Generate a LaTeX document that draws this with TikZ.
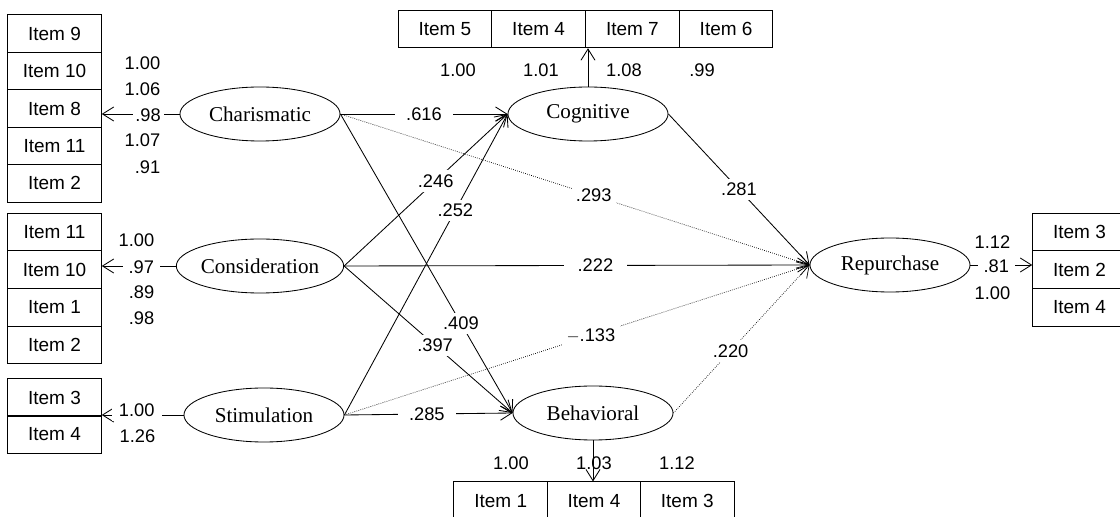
\documentclass[tikz,border=0pt]{standalone}
\usepackage{fontspec}
\setmainfont{Liberation Serif}
\setsansfont{Liberation Sans}
\usetikzlibrary{shapes.geometric, positioning, arrows.meta}

\begin{document}
\begin{tikzpicture}[
    x=0.025cm, y=-0.025cm,
    line width=0.6pt,
    >={Straight Barb[length=8pt,width=10pt]},
    latent/.style={draw, ellipse, minimum width=4cm, minimum height=1.35cm, inner sep=0pt, align=center, font=\fontsize{15}{17}\selectfont},
    itembox/.style={draw, rectangle, minimum width=2.34cm, minimum height=0.94cm, inner sep=0pt, font=\sffamily\fontsize{13.5}{15}\selectfont},
    load/.style={font=\sffamily\fontsize{13}{15}\selectfont, inner sep=1pt},
    coef/.style={font=\sffamily\fontsize{13}{15}\selectfont, fill=white, inner sep=3pt},
    effect/.style={->},
    weakeffect/.style={->, densely dotted, line width=0.5pt}
]

    \useasboundingbox (0,0) rectangle (1120,517);
    \clip (0,0) rectangle (1120,517);

    % --- Latent variables ---
    \node[latent] (cha) at (260,114) {Charismatic};
    \node[latent] (con) at (260,266) {Consideration};
    \node[latent] (sti) at (264,415) {Stimulation};
    \node[latent] (cog) at (588,114) {Cognitive};
    \node[latent] (beh) at (593,413) {Behavioral};
    \node[latent] (rep) at (890,265) {Repurchase};

    % --- Charismatic items ---
    \node[itembox] (chaI9) at (54.5,33.7) {Item 9};
    \node[itembox] (chaI10) at (54.5,71.1) {Item 10};
    \node[itembox] (chaI8) at (54.5,108.5) {Item 8};
    \node[itembox] (chaI11) at (54.5,145.9) {Item 11};
    \node[itembox] (chaI2) at (54.5,183.3) {Item 2};

    % --- Consideration items ---
    \node[itembox] (conI11) at (54.5,231.9) {Item 11};
    \node[itembox] (conI10) at (54.5,269.6) {Item 10};
    \node[itembox] (conI1) at (54.5,307.4) {Item 1};
    \node[itembox] (conI2) at (54.5,345.1) {Item 2};

    % --- Stimulation items ---
    \node[itembox] (stiI3) at (54.5,397.5) {Item 3};
    \node[itembox] (stiI4) at (54.5,434.5) {Item 4};

    % --- Cognitive items ---
    \node[itembox] (cogI5) at (444.9,29) {Item 5};
    \node[itembox] (cogI4) at (538.6,29) {Item 4};
    \node[itembox] (cogI7) at (632.4,29) {Item 7};
    \node[itembox] (cogI6) at (726.1,29) {Item 6};

    % --- Behavioral items ---
    \node[itembox] (behI1) at (500.7,500.7) {Item 1};
    \node[itembox] (behI4) at (594,500.7) {Item 4};
    \node[itembox] (behI3) at (687.3,500.7) {Item 3};

    % --- Repurchase items ---
    \node[itembox] (repI3) at (1079.5,231.9) {Item 3};
    \node[itembox] (repI2) at (1079.5,269.6) {Item 2};
    \node[itembox] (repI4) at (1079.5,307.4) {Item 4};

    % --- Measurement arrows ---
    \draw[->] (cha.west) -- (cha.west -| chaI8.east);
    \draw[->] (con.west) -- (con.west -| conI10.east);
    \draw[->] (sti.west) -- (sti.west -| stiI3.south east);
    \draw[->] (cog.north) -- (cog.north |- cogI4.south);
    \draw[->] (rep.east) -- (rep.east -| repI2.west);

    % --- Loadings ---
    \node[load, anchor=east] at (162,63) {1.00};
    \node[load, anchor=east] at (162,89) {1.06};
    \node[coef, anchor=east, inner xsep=2pt] at (164,115) {.98};
    \node[load, anchor=east] at (162,140) {1.07};
    \node[load, anchor=east] at (162,167) {.91};

    \node[load, anchor=east] at (156,240) {1.00};
    \node[coef, anchor=east, inner xsep=4pt] at (160,267) {.97};
    \node[load, anchor=east] at (156,292) {.89};
    \node[load, anchor=east] at (156,318) {.98};

    \node[coef, anchor=east, inner xsep=5pt] at (162,410) {1.00};
    \node[load, anchor=east] at (157,436) {1.26};

    \node[load] at (458,70) {1.00};
    \node[load] at (541,70) {1.01};
    \node[load] at (624,70) {1.08};
    \node[load] at (702,70) {.99};

    \node[load] at (511,463) {1.00};
    \node[load] at (594,463) {1.03};
    \node[load] at (677,463) {1.12};

    \node[load, anchor=east] at (1012,242) {1.12};
    \node[coef, anchor=east, inner xsep=4pt] at (1015,266) {.81};
    \node[load, anchor=east] at (1012,293) {1.00};

    \draw[->] (beh.south) -- (beh.south |- behI4.north);

    % --- Structural paths ---
    \draw[weakeffect] (cha.east) -- (rep.west) node[coef, pos=0.54] {.293};
    \draw[weakeffect] (sti.east) -- (rep.west) node[coef, pos=0.53] {$-$.133};
    \draw[weakeffect] (beh.east) -- (rep.west) node[coef, pos=0.42] {.220};
    \draw[effect] (cha.east) -- (cog.west) node[coef, midway, inner xsep=8pt] {.616};
    \draw[effect] (cha.east) -- (beh.west) node[coef, pos=0.7] {.409};
    \draw[effect] (con.east) -- (cog.west) node[coef, pos=0.56] {.246};
    \draw[effect] (con.east) -- (rep.west) node[coef, pos=0.54, inner xsep=10pt] {.222};
    \draw[effect] (con.east) -- (beh.west) node[coef, pos=0.54] {.397};
    \draw[effect] (sti.east) -- (cog.west) node[coef, pos=0.68] {.252};
    \draw[effect] (sti.east) -- (beh.west) node[coef, pos=0.49, inner xsep=8pt] {.285};
    \draw[effect] (cog.east) -- (rep.west) node[coef, midway] {.281};

\end{tikzpicture}
\end{document}
